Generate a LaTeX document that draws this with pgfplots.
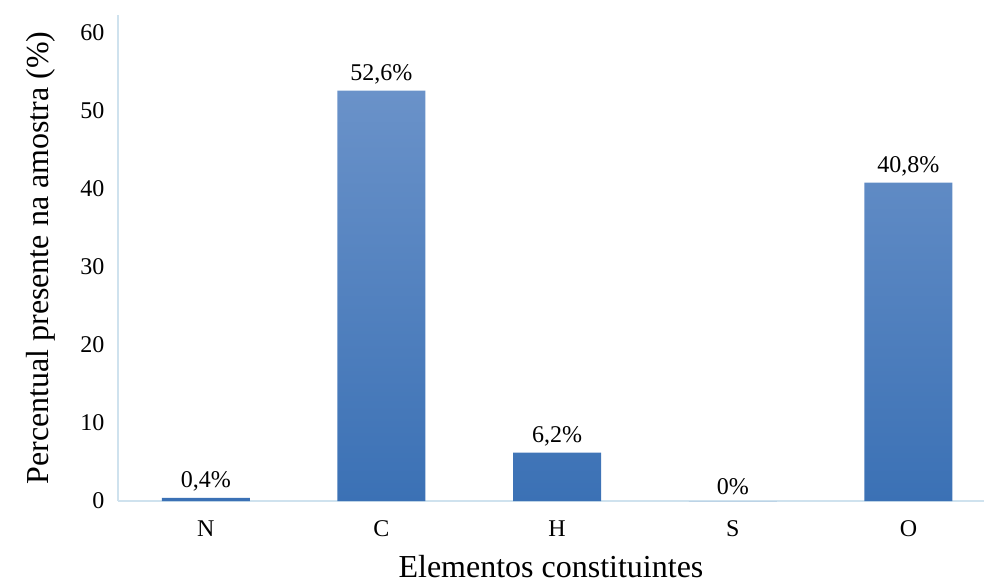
\documentclass[border=0pt]{standalone}
\usepackage{pgfplots}
\pgfplotsset{compat=1.18}
\usepackage{pgfplotstable}
\usepackage{fontspec}
\setmainfont{Liberation Serif}

\definecolor{barTop}{HTML}{6A92C9}
\definecolor{barBottom}{HTML}{3B71B5}
\definecolor{axisLine}{HTML}{CFE2EE}

% element, share (%) and printed label
\pgfplotstableread{
x  val   lab
0  0.4   {0,4\%}
1  52.6  {52,6\%}
2  6.2   {6,2\%}
3  0     {0\%}
4  40.8  {40,8\%}
}\composicao

\begin{document}
\begin{tikzpicture}
\useasboundingbox (-118pt,-82pt) rectangle (866pt,501pt);
\begin{axis}[
  at={(0pt,0pt)}, anchor=south west,
  scale only axis,
  width=866pt, height=486pt,
  xmin=-0.5, xmax=4.43,
  ymin=0, ymax=62.3,
  ytick={0,10,...,60},
  xtick={0,1,2,3,4},
  xticklabels={N,C,H,S,O},
  major tick length=0pt,
  axis x line*=bottom, axis y line*=left,
  axis line style={axisLine, line width=1.5pt},
  tick label style={font=\fontsize{24}{28}\selectfont, black},
  /pgf/number format/assume math mode=true,
  xticklabel style={yshift=-16pt},
  yticklabel style={xshift=-10pt},
  xlabel={Elementos constituintes},
  ylabel={Percentual presente na amostra (\%)},
  label style={font=\fontsize{32}{36}\selectfont, black},
  xlabel style={yshift=-12pt},
  ylabel style={yshift=18pt},
  nodes near coords={\pgfplotspointmeta},
  point meta=explicit symbolic,
  every node near coord/.append style={font=\fontsize{24}{28}\selectfont, black, yshift=3pt},
]
\addplot[ybar, bar width=88pt, draw=none, top color=barTop, bottom color=barBottom]
  table[x=x, y=val, meta=lab] {\composicao};
\end{axis}
\end{tikzpicture}
\end{document}
